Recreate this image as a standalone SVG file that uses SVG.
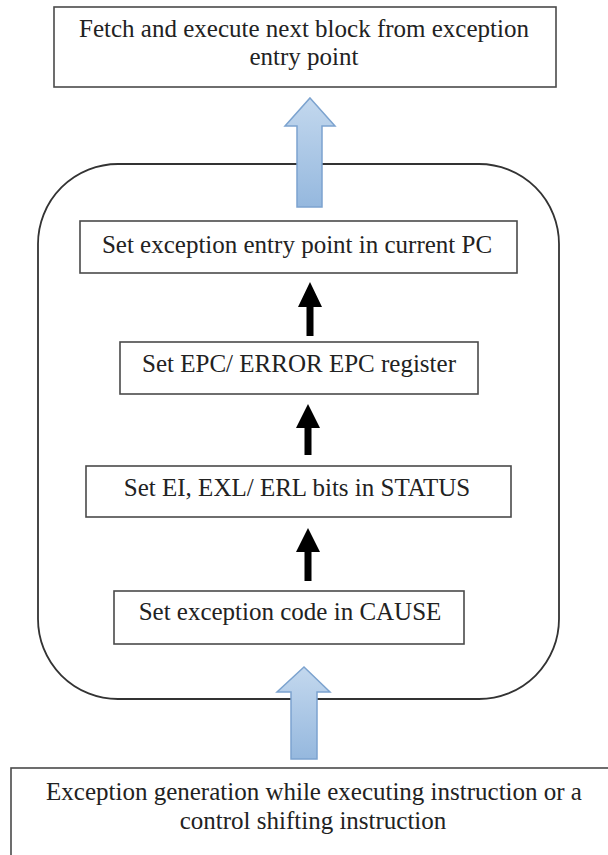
<svg xmlns="http://www.w3.org/2000/svg" width="608" height="855" viewBox="0 0 608 855">
<defs>
<linearGradient id="blue" x1="0" y1="0" x2="0" y2="1">
<stop offset="0" stop-color="#c3d8ee"/>
<stop offset="1" stop-color="#95b8de"/>
</linearGradient>
<style>
.box{fill:#ffffff;stroke:#4a4a4a;stroke-width:1.6}
.frame{fill:none;stroke:#333333;stroke-width:1.8}
.t{font-family:"Liberation Serif","Times New Roman",serif;font-size:25px;fill:#222222;text-anchor:middle}
.blk{fill:#000000;stroke:none}
.bl{fill:url(#blue);stroke:#7ca3cf;stroke-width:1.5;stroke-linejoin:miter}
</style>
</defs>
<rect width="608" height="855" fill="#ffffff"/>
<g id="container">
<rect class="frame" x="38" y="164" width="521" height="535" rx="80" ry="80"/>
</g>
<g id="connectors">
<path class="bl" d="M310,98 L335,126 L322,126 L322,207 L297,207 L297,126 L285,126 Z"/>
<path class="bl" d="M304,667 L330,692 L317,692 L317,759 L291,759 L291,692 L277,692 Z"/>
<path class="blk" d="M310,282 L322,307 L313.5,307 L313.5,336 L306.5,336 L306.5,307 L298,307 Z"/>
<path class="blk" d="M308,404 L320,428 L311.5,428 L311.5,455 L304.5,455 L304.5,428 L296,428 Z"/>
<path class="blk" d="M308,528 L320,552 L311.5,552 L311.5,581 L304.5,581 L304.5,552 L296,552 Z"/>
</g>
<g id="fetch">
<rect class="box" x="54" y="7" width="502" height="80"/>
<text class="t" x="304" y="37">Fetch and execute next block from exception</text>
<text class="t" x="304" y="65">entry point</text>
</g>
<g id="set-pc">
<rect class="box" x="80" y="221" width="437" height="52"/>
<text class="t" x="297" y="253">Set exception entry point in current PC</text>
</g>
<g id="set-epc">
<rect class="box" x="120" y="342" width="358" height="52"/>
<text class="t" x="299" y="372">Set EPC/ ERROR EPC register</text>
</g>
<g id="set-status">
<rect class="box" x="86" y="466" width="425" height="51"/>
<text class="t" x="297" y="496">Set EI, EXL/ ERL bits in STATUS</text>
</g>
<g id="set-cause">
<rect class="box" x="114" y="591" width="350" height="53"/>
<text class="t" x="290" y="620">Set exception code in CAUSE</text>
</g>
<g id="exception">
<rect class="box" x="11" y="768" width="620" height="110"/>
<text class="t" x="314" y="800">Exception generation while executing instruction or a</text>
<text class="t" x="313" y="829">control shifting instruction</text>
</g>
</svg>
